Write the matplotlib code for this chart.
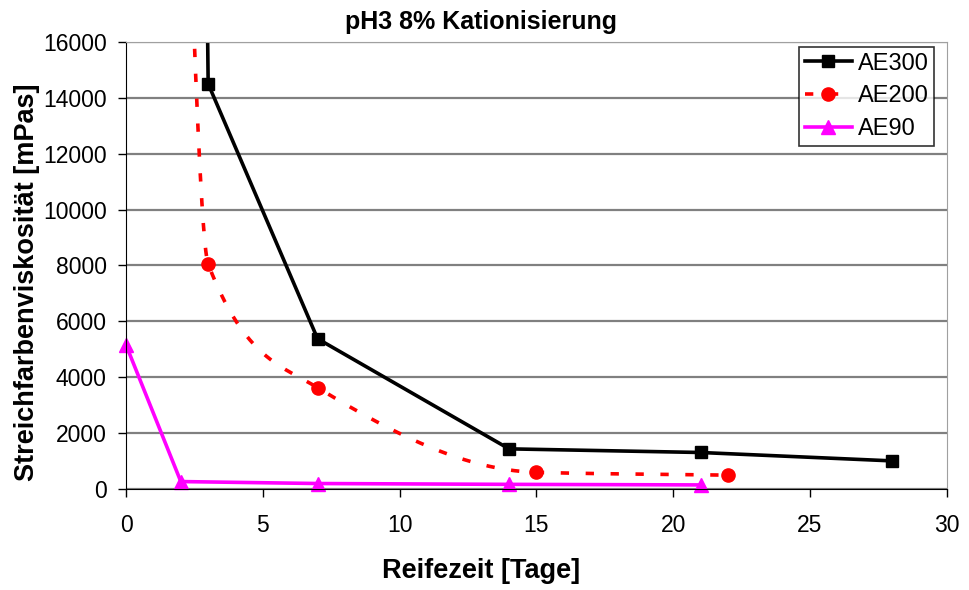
import numpy as np
import matplotlib
matplotlib.use('Agg')
from matplotlib import pyplot as plt

plt.rcParams['font.family'] = ['Liberation Sans', 'DejaVu Sans']

tage_ae300 = [2, 3, 7, 14, 21, 28]
visk_ae300 = [100000, 14500, 5380, 1440, 1310, 1010]

tage_ae200 = [2, 3, 7, 15, 22]
visk_ae200 = [28000, 8050, 3630, 600, 500]

tage_ae90 = [0, 2, 7, 14, 21]
visk_ae90 = [5150, 270, 200, 170, 150]

x_ticks = [0, 5, 10, 15, 20, 25, 30]
y_ticks = [0, 2000, 4000, 6000, 8000, 10000, 12000, 14000, 16000]


def glatt(xs, ys, n=80):
    # geglaettete Linie, monotone kubische Interpolation (PCHIP)
    x = np.asarray(xs, float)
    y = np.asarray(ys, float)
    h = np.diff(x)
    d = np.diff(y) / h
    m = np.zeros_like(y)
    for k in range(1, len(x) - 1):
        if d[k - 1] * d[k] > 0:
            w1 = 2 * h[k] + h[k - 1]
            w2 = h[k] + 2 * h[k - 1]
            m[k] = (w1 + w2) / (w1 / d[k - 1] + w2 / d[k])
    m[0] = d[0]
    m[-1] = d[-1]
    px, py = [], []
    for k in range(len(x) - 1):
        t = np.linspace(0, 1, n)
        h00 = 2 * t**3 - 3 * t**2 + 1
        h10 = t**3 - 2 * t**2 + t
        h01 = -2 * t**3 + 3 * t**2
        h11 = t**3 - t**2
        px.append(x[k] + t * h[k])
        py.append(h00 * y[k] + h10 * h[k] * m[k] + h01 * y[k + 1] + h11 * h[k] * m[k + 1])
    return np.concatenate(px), np.concatenate(py)


fig, ax = plt.subplots(figsize=(9.7, 5.9), dpi=100)
fig.subplots_adjust(left=0.130, right=0.976, top=0.929, bottom=0.171)

lw = 2.6
strich = (0, (2.3, 4.6))
ax.plot(tage_ae300, visk_ae300, color='black', lw=lw, marker='s', ms=9,
        label='AE300')

gx, gy = glatt(tage_ae200, visk_ae200)
ax.plot(gx, gy, color='red', lw=lw, ls=strich)
ax.plot(tage_ae200, visk_ae200, color='red', lw=0, marker='o', ms=9.5)
ax.plot([], [], color='red', lw=lw, ls=strich, marker='o', ms=9.5,
        label='AE200')

ax.plot(tage_ae90, visk_ae90, color='magenta', lw=lw, marker='^', ms=10,
        label='AE90', clip_on=False)

ax.set_xlim(0, 30)
ax.set_ylim(0, 16000)
ax.set_xticks(x_ticks)
ax.set_yticks(y_ticks)
ax.tick_params(labelsize=16.5, direction='out', length=6, width=1)
ax.tick_params(axis='x', pad=12)
ax.tick_params(axis='y', pad=8)
ax.yaxis.grid(True, color='#808080', lw=1.6)
ax.set_axisbelow(True)

for s in ['top', 'right']:
    ax.spines[s].set_color('#a0a0a0')
for s in ['left', 'bottom']:
    ax.spines[s].set_color('black')

ax.set_title('pH3 8% Kationisierung', fontsize=18, fontweight='bold', x=0.432, pad=9)
ax.set_xlabel('Reifezeit [Tage]', fontsize=19.5, fontweight='bold')
ax.set_ylabel('Streichfarbenviskosität [mPas]', fontsize=19.5, fontweight='bold')
ax.xaxis.set_label_coords(0.432, -0.155)
ax.yaxis.set_label_coords(-0.105, 0.463)

leg = ax.legend(loc='upper right', fontsize=17, frameon=True, fancybox=False,
                edgecolor='black', handlelength=2.0, borderpad=0.25,
                labelspacing=0.45, handletextpad=0.25, borderaxespad=0,
                bbox_to_anchor=(0.985, 0.989))
leg.get_frame().set_linewidth(1.2)

fig.savefig('out.png', dpi=100)
